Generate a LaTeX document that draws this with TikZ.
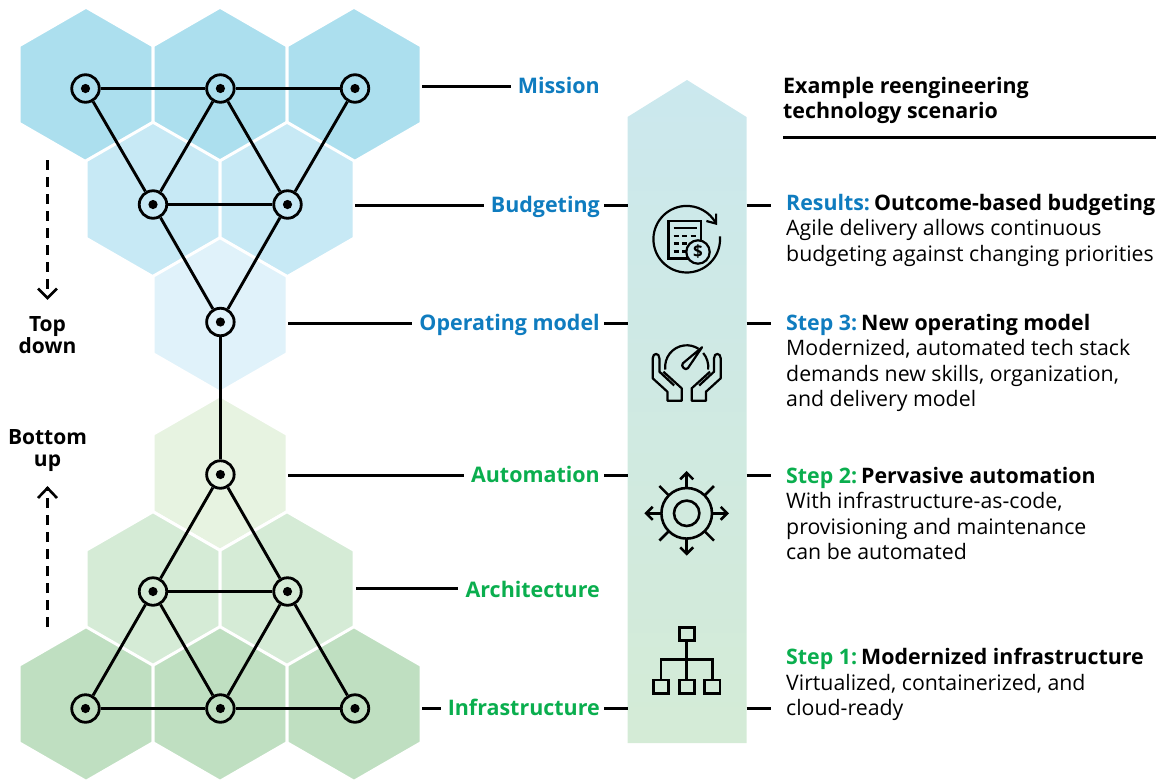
\documentclass[tikz,border=0pt]{standalone}
\usepackage{fontspec}
\setmainfont{Open Sans}
\definecolor{hexA}{HTML}{ACDFEE}
\definecolor{hexB}{HTML}{C7E9F5}
\definecolor{hexC}{HTML}{E0F2FA}
\definecolor{hexD}{HTML}{E7F3E1}
\definecolor{hexE}{HTML}{D5EBD6}
\definecolor{hexF}{HTML}{BFDFC1}
\definecolor{tblue}{HTML}{0F7CBF}
\definecolor{tgreen}{HTML}{0AAE4E}
\definecolor{bandT}{HTML}{CBE8EE}
\definecolor{bandB}{HTML}{D4EBD6}
\newcommand{\hexcell}[3]{\fill[#3,draw=white,line width=3pt] (#1+67,#2-38.7) -- (#1,#2-77.3) -- (#1-67,#2-38.7) -- (#1-67,#2+38.7) -- (#1,#2+77.3) -- (#1+67,#2+38.7) -- cycle;}
\newcommand{\bodyBfont}{\fontsize{21.35pt}{25.5pt}\selectfont\bfseries}
\tikzset{
 x=1pt,y=-1pt,
 hub/.style={circle,draw=black,line width=2.8pt,minimum size=27.5pt,inner sep=0pt},
 link/.style={draw=black,line width=2.9pt},
 lead/.style={draw=black,line width=2.9pt},
 flow/.style={draw=black,line width=2.8pt,dash pattern=on 10pt off 7pt},
 ico/.style={draw=black,line width=2.2pt,line cap=butt,line join=miter},
 lab/.style={font=\fontsize{21.45pt}{25pt}\selectfont\bfseries,anchor=base east,inner xsep=7pt,inner ysep=0pt},
 side/.style={font=\fontsize{21pt}{22pt}\selectfont\bfseries,align=center,inner sep=0pt},
 body/.style={font=\fontsize{21.3pt}{25.5pt}\selectfont,align=left,anchor=north west,inner sep=0pt},
 head/.style={font=\fontsize{21.4pt}{25.3pt}\selectfont\bfseries,align=left,anchor=north west,inner sep=0pt},
}
\begin{document}
\begin{tikzpicture}
\useasboundingbox (0,0) rectangle (1160,780);
\hexcell{86}{84.5}{hexA}
\hexcell{220}{84.5}{hexA}
\hexcell{354}{84.5}{hexA}
\hexcell{153}{199.5}{hexB}
\hexcell{287}{199.5}{hexB}
\hexcell{220}{315}{hexC}
\hexcell{220}{473}{hexD}
\hexcell{153}{589}{hexE}
\hexcell{287}{589}{hexE}
\hexcell{86}{704}{hexF}
\hexcell{220}{704}{hexF}
\hexcell{354}{704}{hexF}
% hubs
\foreach \n/\px/\py/\c in {a1/85.5/88.5/hexA,a2/220.4/88.5/hexA,a3/355/88.5/hexA,b1/153/204.5/hexB,b2/287.5/204.5/hexB,c1/220.4/322/hexC,d1/220.4/474.5/hexD,e1/153/591.5/hexE,e2/287.5/591.5/hexE,f1/85.5/708.5/hexF,f2/220.4/708.5/hexF,f3/355/708.5/hexF}{
 \node[hub,fill=\c] (\n) at (\px,\py) {};
 \fill[black] (\n.center) circle (4.6pt);
}
\foreach \p/\q in {a1/a2,a2/a3,a1/b1,a2/b1,a2/b2,a3/b2,b1/b2,b1/c1,b2/c1,c1/d1,d1/e1,d1/e2,e1/e2,e1/f1,e1/f2,e2/f2,e2/f3,f1/f2,f2/f3}{
 \draw[link] (\p) -- (\q);
}
% band
\shade[top color=bandT,bottom color=bandB] (627.5,117) -- (687,80) -- (746.5,117) -- (746.5,743) -- (627.5,743) -- cycle;
\coordinate (bandL) at (627.5,400);
\coordinate (bandR) at (746.5,400);
% labels
\node[lab,text=tblue] (mission) at (607,93) {Mission};
\node[lab,text=tblue] (budgeting) at (607,212) {Budgeting};
\node[lab,text=tblue] (opmodel) at (607,330.5) {Operating model};
\node[lab,text=tgreen] (automation) at (607,482.5) {Automation};
\node[lab,text=tgreen] (architecture) at (607,597.5) {Architecture};
\node[lab,text=tgreen] (infra) at (607,715.5) {Infrastructure};
\foreach \n/\px/\py in {mission/422/86.5,budgeting/355/205.5,opmodel/288/323.5,automation/288/475.5,architecture/356/588.5,infra/422/708.5}{
 \coordinate (s\n) at (\px,\py);
 \draw[lead] (s\n) -- (s\n -| \n.west);
}
\foreach \n/\py in {budgeting/205.5,opmodel/323.5,automation/475.5,infra/708.5}{
 \coordinate (m\n) at (604,\py);
 \draw[lead] (m\n) -- (m\n -| bandL);
 \coordinate (r\n) at (771,\py);
 \draw[lead] (r\n -| bandR) -- (r\n);
}
% side arrows
\coordinate (tdA) at (47.5,160);
\coordinate (tdB) at (47.5,298);
\coordinate (buA) at (47.5,627);
\coordinate (buB) at (47.5,487);
\draw[flow] (tdA) -- (tdB);
\draw[draw=black,line width=2.6pt] (38,288.5) -- (47.5,298) -- (57,288.5);
\draw[flow] (buA) -- (buB);
\draw[draw=black,line width=2.6pt] (38,498) -- (47.5,488) -- (57,498);
\node[side] (topdown) at (47.5,335) {Top\\down};
\node[side] (bottomup) at (47.5,450.5) {Bottom\\up};
% heading
\node[head] (heading) at (783,77) {Example reengineering\\technology scenario};
\coordinate (ruleA) at (783,137.5);
\coordinate (ruleB) at (1156,137.5);
\draw[draw=black,line width=2.9pt] (ruleA) -- (ruleB);
% text blocks
\node[body] (t1) at (786,194) {{\bodyBfont\color{tblue}Results:}\hspace{4pt}{\bodyBfont Outcome-based budgeting}\\Agile delivery allows continuous\\budgeting against changing priorities};
\node[body] (t2) at (786,314) {{\bodyBfont\color{tblue}Step 3:}\hspace{4pt}{\bodyBfont New operating model}\\Modernized, automated tech stack\\demands new skills, organization,\\and delivery model};
\node[body] (t3) at (786,467) {{\bodyBfont\color{tgreen}Step 2:}\hspace{4pt}{\bodyBfont Pervasive automation}\\With infrastructure-as-code,\\provisioning and maintenance\\can be automated};
\node[body] (t4) at (786,648) {{\bodyBfont\color{tgreen}Step 1:}\hspace{4pt}{\bodyBfont Modernized infrastructure}\\Virtualized, containerized, and\\cloud-ready};
% icon: budget
\begin{scope}[shift={(686.7,239.3)}]
 \draw[ico] (33.2,-3) arc[start angle=-5,end angle=332,radius=33.3];
 \draw[ico] (19.7,-18.3) -- (29.4,-15.7) -- (29.4,-25.7);
 \draw[ico,line width=2.5pt] (-18.2,-18.3) rectangle (14.5,19.3);
 \draw[ico,line width=2.5pt] (-13,-11.5) -- (10,-11.5);
 \foreach \yy in {-3.5,4,12}{
  \draw[ico,line width=2.5pt,dash pattern=on 5pt off 3.5pt] (-13,\yy) -- (10,\yy);
 }
 \path[ico,fill=bandT] (11.3,12.7) circle (11.7);
 \node[font=\fontsize{17pt}{17pt}\selectfont\bfseries,inner sep=0pt] (dollar) at (11.3,12.7) {\$};
\end{scope}
% icon: hands and gauge
\begin{scope}[shift={(686.7,367)}]
 \draw[ico] (-21.4,2.5) arc[start angle=173,end angle=303,radius=21.6];
 \draw[ico] (21.4,2.5) arc[start angle=7,end angle=-40,radius=21.6];
 \draw[ico,line join=round] (15.3,-19.7) -- (1.3,1.05) .. controls (-1,4.5) and (-6.5,-1) .. (-3.9,-3.65) -- cycle;
 \foreach \sx in {1,-1}{
  \begin{scope}[xscale=\sx]
   \draw[ico,line join=round] (-23.3,4.7) -- (-5,21.3) -- (-5,33.7) -- (-19.3,33.7) -- (-19.3,24.7) -- (-34,11.3) -- (-34,-8.7) .. controls (-34,-14.5) and (-27.3,-14.5) .. (-27.3,-8.7) -- (-27.3,4.7) -- (-12.5,18.5);
  \end{scope}
 }
\end{scope}
% icon: automation
\begin{scope}[shift={(686.7,513.3)}]
 \draw[ico,line width=2.6pt] (0,0) circle (25.3);
 \draw[ico,line width=2.6pt] (0,0) circle (12.7);
 \foreach \ang in {0,90,180,270}{
  \begin{scope}[rotate=\ang]
   \draw[ico,line width=2.6pt] (25.3,0) -- (40,0);
   \draw[ico,line width=2.6pt] (34,-6.5) -- (40.5,0) -- (34,6.5);
  \end{scope}
 }
 \foreach \ang in {45,135,225,315}{
  \begin{scope}[rotate=\ang]
   \draw[ico,line width=2.6pt] (25.3,0) -- (38.6,0);
  \end{scope}
 }
\end{scope}
% icon: hierarchy
\begin{scope}[shift={(686.7,660)}]
 \draw[ico,line width=2.6pt] (-7.5,-32.7) rectangle (7.5,-19.3);
 \draw[ico,line width=2.6pt] (-33.3,20) rectangle (-18,33.3);
 \draw[ico,line width=2.6pt] (-7.5,20) rectangle (7.5,33.3);
 \draw[ico,line width=2.6pt] (18,20) rectangle (33.3,33.3);
 \draw[ico,line width=2.6pt] (0,-19.3) -- (0,20);
 \draw[ico,line width=2.6pt] (-25.7,20) -- (-25.7,-0.7) -- (25.7,-0.7) -- (25.7,20);
\end{scope}
\end{tikzpicture}
\end{document}
